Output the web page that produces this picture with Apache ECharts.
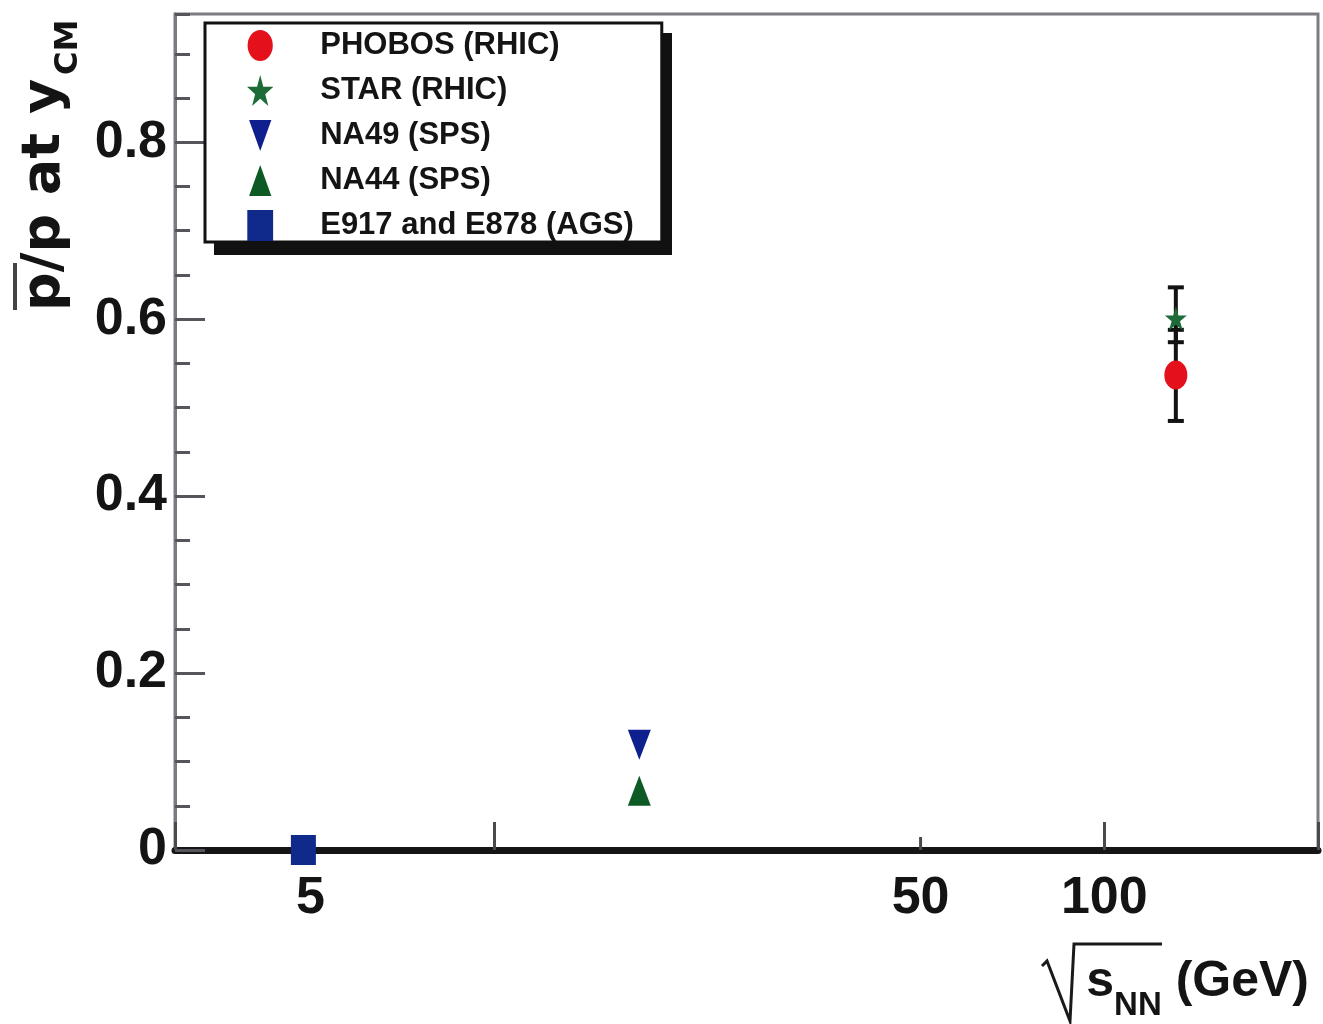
<!DOCTYPE html>
<html><head><meta charset="utf-8">
<script src="https://cdn.jsdelivr.net/npm/echarts@6/dist/echarts.min.js"></script>
<style>html,body{margin:0;padding:0;background:#fff}#chart{width:1323px;height:1024px}</style>
</head><body><div id="chart"></div>
<script>
// ---- data ----
const experiments = ['PHOBOS (RHIC)', 'STAR (RHIC)', 'NA49 (SPS)', 'NA44 (SPS)', 'E917 and E878 (AGS)'];
const sqrtSNN   = [131, 131, 17.3, 17.3, 4.87];
const pbarOverP = [0.537, 0.601, 0.119, 0.067, 0.0];
const errLow    = [0.485, 0.574, null, null, null];
const errHigh   = [0.588, 0.636, null, null, null];
const xTickLabels = [5, 50, 100];
const xShortTicks = [5, 50];
const xRange = [3, 224];
const yRange = [0, 0.945];

// ---- styling ----
const FONT = "'Liberation Sans', Arial, Helvetica, sans-serif";
const TXT = '#141414';
const colors = ['#e4101c', '#1d6b36', '#0f1f8e', '#0e5a24', '#102a8c'];
const STAR = 'path://M11.5,0L14.22,10.31L23,10.31L15.89,16.69L18.6,27L11.5,20.63L4.4,27L7.11,16.69L0,10.31L8.78,10.31Z';
const shapes = [
  'path://M0,16A13,16,0,1,1,26,16A13,16,0,1,1,0,16Z',
  STAR,
  'path://M0,0L23,0L11.5,32Z',
  'path://M11.5,0L23,32L0,32Z',
  'path://M0,0H25V30H0Z'
];
const sizes = [[23, 29], [22, 24], [23, 30], [23, 30], [25, 30]];

const chart = echarts.init(document.getElementById('chart'), null, {renderer: 'canvas'});

const scatterSeries = experiments.map((name, i) => ({
  type: 'scatter',
  name: name,
  data: [[sqrtSNN[i], pbarOverP[i]]],
  symbol: shapes[i],
  symbolSize: sizes[i],
  itemStyle: {color: colors[i], opacity: 1},
  z: 5,
  clip: false,
  silent: true
}));

const errData = [];
experiments.forEach((n, i) => {
  if (errLow[i] != null) errData.push([sqrtSNN[i], errLow[i], errHigh[i]]);
});

const option = {
  animation: false,
  backgroundColor: '#ffffff',
  grid: {
    left: 175, right: 5, top: 14, bottom: 174,
    show: true, borderColor: '#7c7c84', borderWidth: 3, backgroundColor: 'transparent'
  },
  xAxis: [{
    type: 'log', logBase: 10, min: xRange[0], max: xRange[1],
    axisLine: {show: true, lineStyle: {color: '#151515', width: 7}},
    axisTick: {show: true, inside: true, length: 28, lineStyle: {color: '#4a4a4a', width: 3}},
    axisLabel: {show: false},
    splitLine: {show: false}
  }],
  yAxis: [{
    type: 'value', position: 'left', min: yRange[0], max: yRange[1], interval: 0.2,
    axisLine: {show: true, lineStyle: {color: '#7a7a82', width: 3}},
    axisTick: {show: true, inside: true, length: 30, lineStyle: {color: '#55555c', width: 3}},
    axisLabel: {
      show: true, margin: 8, showMaxLabel: false,
      fontFamily: FONT, fontSize: 52, fontWeight: 'bold', color: TXT,
      formatter: v => (v === 0 ? '0' : v.toFixed(1))
    },
    splitLine: {show: false}
  }, {
    type: 'value', position: 'left', min: yRange[0], max: yRange[1], interval: 0.05,
    axisLine: {show: false},
    axisTick: {show: true, inside: true, length: 15, lineStyle: {color: '#55555c', width: 3}},
    axisLabel: {show: false},
    splitLine: {show: false}
  }],
  legend: {
    orient: 'vertical', left: 205, top: 23, z: 6,
    padding: [7, 28, 1, 42],
    itemWidth: 110, itemHeight: 31, itemGap: 14,
    symbolKeepAspect: true,
    backgroundColor: '#ffffff', borderColor: '#111111', borderWidth: 3, borderRadius: 0,
    textStyle: {fontFamily: FONT, fontSize: 31, fontWeight: 'bold', color: TXT},
    data: experiments.map((n, i) => ({name: n, icon: shapes[i]}))
  },
  graphic: [
    // drop shadow behind the legend box
    {type: 'rect', z: 1, silent: true, shape: {x: 214, y: 33, width: 458, height: 222}, style: {fill: '#111111'}},
    // y-axis title (rotated, reads bottom to top)
    {
      type: 'text', x: 18, y: 311, rotation: Math.PI / 2, z: 10,
      style: {
        text: '{m|p/p at y}{s|CM}',
        align: 'left', verticalAlign: 'top',
        rich: {
          m: {fontFamily: 'DejaVu Sans', fontWeight: 'bold', fontSize: 54, lineHeight: 54, verticalAlign: 'top', fill: TXT},
          s: {fontFamily: 'DejaVu Sans', fontWeight: 'bold', fontSize: 32, lineHeight: 32, verticalAlign: 'top', padding: [35, 0, 0, 4], fill: TXT}
        }
      }
    },
    {type: 'line', z: 10, shape: {x1: 15, y1: 263, x2: 15, y2: 310}, style: {stroke: '#444', lineWidth: 4}},
    // x-axis title
    {
      type: 'text', x: 1309, y: 940, z: 10,
      style: {
        text: '{s|s}{n|NN}{g| (GeV)}',
        align: 'right', verticalAlign: 'top',
        rich: {
          s: {fontFamily: FONT, fontWeight: 'bold', fontSize: 50, lineHeight: 50, verticalAlign: 'top', padding: [17, 0, 0, 0], fill: TXT},
          n: {fontFamily: FONT, fontWeight: 'bold', fontSize: 33, lineHeight: 33, verticalAlign: 'top', padding: [49, 0, 0, 0], fill: TXT},
          g: {fontFamily: FONT, fontWeight: 'bold', fontSize: 50, lineHeight: 50, verticalAlign: 'top', padding: [17, 0, 0, 0], fill: TXT}
        }
      }
    },
    // square-root sign over s_NN
    {type: 'polyline', z: 10, shape: {points: [[1042, 966], [1047, 961], [1070, 1021], [1074, 944], [1162, 944]]},
     style: {stroke: '#1a1a1a', lineWidth: 3, fill: null}}
  ],
  series: [
    {
      type: 'custom', name: 'error bars', z: 3, silent: true, clip: false,
      data: errData,
      encode: {x: 0, y: [1, 2]},
      renderItem: function (params, api) {
        const lo = api.coord([api.value(0), api.value(1)]);
        const hi = api.coord([api.value(0), api.value(2)]);
        const w = 8;
        const st = {stroke: '#121212', lineWidth: 4};
        return {type: 'group', children: [
          {type: 'line', shape: {x1: lo[0], y1: lo[1], x2: hi[0], y2: hi[1]}, style: st},
          {type: 'line', shape: {x1: lo[0] - w, y1: lo[1], x2: lo[0] + w, y2: lo[1]}, style: st},
          {type: 'line', shape: {x1: hi[0] - w, y1: hi[1], x2: hi[0] + w, y2: hi[1]}, style: st}
        ]};
      }
    },
    {
      type: 'scatter', name: 'x short ticks', silent: true, clip: false, z: 2,
      data: xShortTicks.map(v => [v, 0]),
      symbol: 'rect', symbolSize: [3, 13], symbolOffset: [0, '-50%'],
      itemStyle: {color: '#4a4a4a', opacity: 1}
    },
    {
      type: 'scatter', name: 'x tick labels', silent: true, clip: false, z: 2,
      data: xTickLabels.map(v => [v, 0]),
      symbolSize: 0,
      itemStyle: {opacity: 1},
      label: {
        show: true, position: 'bottom', distance: 23,
        fontFamily: FONT, fontSize: 52, fontWeight: 'bold', color: TXT, opacity: 1,
        formatter: p => String(p.value[0])
      }
    }
  ].concat(scatterSeries)
};
chart.setOption(option);
</script>
</body></html>
